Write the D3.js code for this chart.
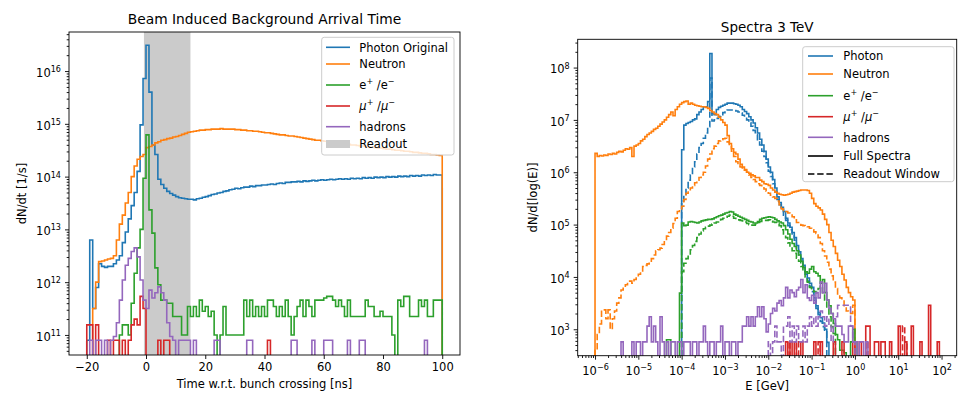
<!DOCTYPE html>
<html>
<head>
<meta charset="utf-8">
<script src="https://cdn.jsdelivr.net/npm/d3@7"></script>
<style>
  body { margin: 0; background: #fff; }
  text { font-family: "DejaVu Sans", sans-serif; fill: #000; }
</style>
</head>
<body>
<svg id="fig" width="958" height="394"></svg>
<script>
// ---------------- left panel: arrival time ----------------
// 1 ns bins starting at -20 ns, values are log10(dN/dt [1/s]), 0 = empty bin
const timeStart = -20;
const timeBinWidth = 1;
const timeTicks = [-20, 0, 20, 40, 60, 80, 100];
const readoutWindow = [-0.7, 15];

const photonTime = [
  10.9, 12.8, 11.5, 11.9, 12.35, 12.3, 12.28, 12.3, 12.3, 12.35,
  12.42, 12.5, 12.75, 12.95, 13.2, 13.45, 13.7, 14.1, 14.98, 15.86,
  16.49, 15.6, 14.6, 14.42, 13.95, 13.85, 13.78, 13.72, 13.68, 13.65,
  13.62, 13.6, 13.59, 13.58, 13.57, 13.57, 13.56, 13.58, 13.59, 13.61,
  13.62, 13.64, 13.66, 13.67, 13.69, 13.7, 13.72, 13.73, 13.75, 13.76,
  13.78, 13.77, 13.79, 13.8, 13.8, 13.82, 13.81, 13.83, 13.83, 13.84,
  13.84, 13.85, 13.86, 13.85, 13.87, 13.88, 13.87, 13.89, 13.89, 13.9,
  13.9, 13.91, 13.9, 13.92, 13.91, 13.92, 13.93, 13.92, 13.93, 13.94,
  13.93, 13.94, 13.95, 13.94, 13.95, 13.96, 13.95, 13.96, 13.95, 13.97,
  13.96, 13.97, 13.96, 13.98, 13.97, 13.98, 13.97, 13.99, 13.98, 13.99,
  13.98, 14.0, 13.99, 14.0, 13.99, 14.01, 14.0, 14.01, 14.0, 14.02,
  14.01, 14.02, 14.01, 14.03, 14.02, 14.03, 14.02, 14.04, 14.03, 14.03
];
const neutronTime = [
  0, 0, 11.5, 12.0, 12.39, 12.4, 12.42, 12.44, 12.45, 12.5,
  12.8, 13.1, 13.27, 13.5, 13.7, 14.0, 14.2, 14.33, 14.38, 14.42,
  14.55, 14.57, 14.6, 14.64, 14.66, 14.69, 14.7, 14.72, 14.73, 14.75,
  14.76, 14.78, 14.8, 14.82, 14.84, 14.85, 14.86, 14.87, 14.88, 14.88,
  14.89, 14.89, 14.9, 14.9, 14.9, 14.91, 14.9, 14.9, 14.9, 14.9,
  14.89, 14.89, 14.88, 14.88, 14.87, 14.87, 14.86, 14.86, 14.85, 14.84,
  14.83, 14.83, 14.82, 14.81, 14.8, 14.79, 14.79, 14.78, 14.77, 14.77,
  14.76, 14.75, 14.74, 14.73, 14.72, 14.71, 14.7, 14.69, 14.69, 14.68,
  14.67, 14.66, 14.66, 14.65, 14.64, 14.63, 14.63, 14.62, 14.61, 14.6,
  14.6, 14.59, 14.58, 14.58, 14.57, 14.56, 14.56, 14.55, 14.54, 14.54,
  14.53, 14.52, 14.52, 14.51, 14.5, 14.5, 14.49, 14.48, 14.48, 14.47,
  14.46, 14.46, 14.45, 14.44, 14.44, 14.43, 14.42, 14.42, 14.41, 14.4
];
const electronTime = [
  0, 0, 0, 0, 0, 0, 0, 0, 0, 0,
  0, 11.0, 11.19, 11.19, 11.0, 11.6, 12.17, 12.65, 13.0, 13.97,
  14.79, 13.37, 12.93, 12.27, 11.95, 11.66, 11.66, 11.6, 11.6, 11.35,
  11.35, 11.35, 11.0, 11.0, 11.54, 11.35, 11.54, 11.35, 11.66, 11.45,
  11.54, 11.35, 11.45, 11.0, 0, 11.0, 11.54, 11.0, 11.0, 11.0,
  11.0, 11.0, 11.0, 11.66, 11.35, 11.66, 11.35, 11.54, 11.35, 11.54,
  11.35, 11.66, 11.66, 11.54, 11.35, 11.54, 11.35, 11.66, 11.35, 11.0,
  11.35, 11.54, 11.66, 11.35, 11.66, 11.54, 11.35, 11.66, 11.66, 11.66,
  11.7, 11.73, 11.73, 11.66, 11.54, 11.66, 11.54, 11.35, 11.66, 11.35,
  11.35, 11.35, 11.35, 11.35, 11.66, 11.54, 11.54, 11.35, 11.35, 11.45,
  11.35, 11.35, 11.35, 11.0, 0, 11.66, 11.54, 11.73, 11.73, 11.35,
  11.35, 11.35, 11.66, 11.54, 11.66, 11.35, 11.35, 11.66, 11.66, 11.66
];
const muonTime = [
  11.19, 11.19, 0, 11.19, 0, 0, 0, 10.9, 0, 10.9,
  10.9, 0, 10.9, 0, 10.9, 11.19, 11.3, 11.19, 11.73, 11.5,
  0, 0, 0, 0, 10.9, 0, 10.9, 10.9, 0, 0,
  0, 0, 0, 0, 0, 0, 0, 0, 0, 0,
  0, 0, 0, 0, 0, 0, 0, 0, 0, 0,
  0, 0, 0, 0, 0, 0, 0, 0, 0, 0,
  0, 10.9, 0, 0, 0, 0, 0, 0, 0, 0,
  0, 0, 0, 0, 0, 0, 0, 0, 0, 0,
  0, 0, 0, 0, 0, 0, 0, 0, 0, 0,
  0, 0, 0, 0, 0, 0, 0, 0, 0, 0,
  0, 0, 0, 0, 0, 0, 0, 0, 0, 0,
  0, 0, 0, 0, 0, 0, 0, 0, 0, 0
];
const hadronTime = [
  0, 10.9, 0, 10.9, 10.9, 0, 10.9, 0, 10.9, 10.97,
  11.23, 11.66, 12.04, 12.32, 12.45, 12.58, 12.65, 12.48, 12.04, 11.66,
  11.5, 11.85, 11.7, 11.8, 11.91, 11.8, 11.66, 11.23, 10.97, 10.9,
  0, 10.9, 10.9, 10.9, 10.9, 0, 10.9, 0, 0, 0,
  0, 0, 0, 10.9, 10.9, 0, 0, 0, 0, 0,
  0, 0, 0, 0, 10.9, 10.9, 0, 0, 0, 0,
  0, 0, 0, 0, 0, 0, 0, 0, 0, 10.9,
  10.9, 0, 0, 0, 0, 0, 10.9, 0, 0, 0,
  10.9, 10.9, 10.9, 0, 0, 0, 0, 0, 10.9, 0,
  0, 0, 10.9, 10.9, 0, 0, 0, 0, 0, 0,
  0, 0, 0, 0, 0, 0, 0, 0, 0, 0,
  0, 0, 0, 0, 10.9, 0, 0, 0, 0, 0
];

// ---------------- right panel: spectra ----------------
// bins of 0.05 in log10(E/GeV), values are log10(dN/dlog(E)), 0 = empty bin
const eBinWidth = 0.05;

const photonFullStart = -4.0;
const photonFull = [
  6.43, 6.9, 6.93, 6.95, 6.97, 7.0, 7.02, 7.1, 7.15, 7.2,
  7.25, 7.25, 7.35, 8.27, 7.12, 7.1, 7.2, 7.24, 7.26, 7.28,
  7.3, 7.32, 7.32, 7.32, 7.31, 7.3, 7.28, 7.25, 7.2, 7.16,
  7.12, 7.06, 7.0, 6.94, 6.85, 6.75, 6.63, 6.52, 6.4, 6.25,
  6.1, 6.0, 5.86, 5.7, 5.53, 5.42, 5.33, 5.25, 5.12, 5.03,
  4.95, 4.85, 4.75, 4.6, 4.48, 4.35, 4.22, 4.1, 3.98, 3.88,
  3.8, 3.6, 3.45, 3.32, 3.22, 3.12, 3.0, 2.75
];
const photonReadoutStart = -4.0;
const photonReadout = [
  5.45, 5.55, 5.7, 5.85, 5.95, 6.1, 6.2, 6.35, 6.47, 6.55,
  6.65, 6.75, 6.87, 7.8, 6.98, 7.0, 7.03, 7.07, 7.1, 7.14,
  7.17, 7.19, 7.19, 7.19, 7.18, 7.17, 7.15, 7.13, 7.09, 7.05,
  7.0, 6.95, 6.88, 6.8, 6.72, 6.62, 6.52, 6.4, 6.3, 6.18,
  6.02, 5.92, 5.78, 5.62, 5.48, 5.38, 5.28, 5.18, 5.08, 4.98,
  4.9, 4.8, 4.7, 4.55, 4.42, 4.3, 4.18, 4.05, 3.92, 3.82,
  3.72, 3.55, 3.4, 3.28, 3.15, 3.05, 2.95
];
const neutronFullStart = -6.0;
const neutronFull = [
  6.36, 6.3, 6.32, 6.31, 6.33, 6.32, 6.35, 6.34, 6.36, 6.35,
  6.38, 6.4, 6.39, 6.42, 6.45, 6.44, 6.47, 6.3, 6.5, 6.52,
  6.55, 6.6, 6.63, 6.68, 6.72, 6.75, 6.78, 6.82, 6.84, 6.88,
  6.92, 6.96, 7.0, 7.05, 7.1, 7.15, 7.08, 7.2, 7.25, 7.3,
  7.33, 7.35, 7.36, 7.3, 7.32, 7.3, 7.28, 7.27, 7.26, 7.25,
  7.25, 7.24, 7.22, 7.18, 7.15, 7.12, 7.1, 7.05, 7.0, 6.95,
  6.9, 6.7, 6.55, 6.45, 6.38, 6.35, 6.25, 6.15, 6.1, 6.05,
  6.0, 5.98, 5.95, 5.93, 5.9, 5.9, 5.85, 5.82, 5.78, 5.77,
  5.75, 5.7, 5.66, 5.62, 5.6, 5.58, 5.57, 5.56, 5.57, 5.58,
  5.6, 5.62, 5.63, 5.64, 5.65, 5.66, 5.66, 5.66, 5.65, 5.6,
  5.5, 5.4, 5.35, 5.32, 5.28, 5.2, 5.1, 5.0, 4.85, 4.7,
  4.58, 4.45, 4.32, 4.2, 4.05, 3.94, 3.8, 3.7, 3.62, 3.56
];
const neutronReadoutStart = -6.0;
const neutronReadout = [
  2.6, 2.9, 3.1, 3.37, 3.37, 3.2, 3.37, 3.0, 3.2, 3.35,
  3.5, 3.6, 3.75, 3.8, 3.85, 3.9, 3.92, 3.88, 3.95, 4.0,
  4.05, 4.1, 4.2, 4.22, 4.25, 4.28, 4.35, 4.42, 4.5, 4.52,
  4.55, 4.62, 4.7, 4.78, 4.85, 4.93, 5.02, 5.12, 5.25, 5.3,
  5.35, 5.48, 5.6, 5.65, 5.7, 5.75, 5.8, 5.85, 5.9, 5.95,
  6.0, 6.12, 6.25, 6.35, 6.45, 6.5, 6.55, 6.6, 6.62, 6.64,
  6.65, 6.58, 6.5, 6.4, 6.3, 6.2, 6.12, 6.1, 6.08, 6.04,
  6.0, 5.95, 5.9, 5.86, 5.82, 5.78, 5.75, 5.72, 5.68, 5.64,
  5.6, 5.56, 5.53, 5.5, 5.45, 5.38, 5.3, 5.27, 5.25, 5.22,
  5.2, 5.15, 5.09, 5.04, 5.0, 4.99, 4.98, 4.97, 4.96, 4.93,
  4.9, 4.86, 4.83, 4.75, 4.64, 4.5, 4.4, 4.28, 4.15, 4.02,
  3.9, 3.78, 3.65, 3.6, 3.56, 3.45, 3.35, 3.32, 3.3, 3.46
];
const electronFullStart = -4.35;
const electronFull = [
  2.8, 2.8, 0, 0, 0, 0, 3.69, 5.03, 4.98, 4.99,
  5.05, 5.06, 5.05, 5.04, 5.03, 5.05, 5.07, 5.08, 5.09, 5.1,
  5.1, 5.11, 5.13, 5.15, 5.17, 5.18, 5.2, 5.22, 5.23, 5.25,
  5.24, 5.2, 5.18, 5.16, 5.14, 5.12, 5.1, 5.08, 5.06, 5.05,
  5.03, 5.03, 5.06, 5.1, 5.12, 5.13, 5.14, 5.15, 5.14, 5.13,
  5.1, 5.07, 5.05, 5.03, 4.98, 4.9, 4.82, 4.72, 4.64, 4.58,
  4.5, 4.42, 4.3, 4.18, 4.1, 4.07, 4.15, 4.2, 4.1, 4.07,
  4.02, 3.88, 3.95, 3.7, 3.56, 3.45, 3.3, 3.11, 2.9, 2.8,
  2.6, 2.6, 2.55, 0, 0, 2.76, 3.0, 2.76
];
const electronReadoutStart = -4.0;
const electronReadout = [
  4.1, 4.26, 4.35, 4.42, 4.52, 4.6, 4.68, 4.75, 4.82, 4.88,
  4.92, 4.95, 4.97, 4.99, 5.01, 5.03, 5.05, 5.07, 5.1, 5.12,
  5.14, 5.16, 5.18, 5.16, 5.12, 5.1, 5.09, 5.08, 5.07, 5.05,
  5.02, 5.0, 4.99, 4.99, 5.01, 5.04, 5.06, 5.07, 5.08, 5.08,
  5.09, 5.07, 5.05, 5.04, 5.02, 4.98, 4.9, 4.82, 4.75, 4.65,
  4.55, 4.5, 4.45, 4.36, 4.3, 4.2, 4.1, 4.0, 3.9, 3.8,
  3.75, 3.72, 3.7, 3.78, 3.82, 3.7, 3.56, 3.4, 3.24, 3.05,
  2.92
];
const muonFullStart = -2.0;
const muonFull = [
  0, 0, 0, 0, 0, 0, 0, 0, 2.76, 0,
  2.76, 0, 2.76, 0, 0, 2.76, 0, 0, 0, 0,
  0, 2.76, 0, 0, 2.76, 0, 0, 0, 0, 0,
  2.76, 0, 0, 0, 2.76, 0, 0, 0, 0, 2.76,
  0, 0, 2.76, 0, 0, 3.06, 3.06, 0, 0, 2.76,
  2.76, 0, 2.76, 2.76, 0, 0, 2.76, 0, 0, 0,
  3.06, 0, 0, 2.76, 0, 0, 3.06, 0, 0, 0,
  2.76, 0, 0, 0, 3.46, 0, 0, 0, 2.76, 0
];
const muonReadoutStart = -2.0;
const muonReadout = [
  0, 0, 0, 0, 0, 0, 0, 0, 0, 2.76,
  0, 0, 0, 2.76, 0, 0, 0, 0, 0, 0,
  0, 0, 0, 2.76, 0, 0, 0, 0, 0, 0,
  0, 0, 0, 0, 0, 0, 0, 0, 0, 0,
  0, 0, 0, 0, 0, 2.76, 0, 0, 0, 0,
  0, 0, 0, 0, 0, 0, 0, 0, 0, 0,
  0, 0, 3.06, 2.76, 0, 0, 0, 0, 0, 0,
  0, 0, 0, 0, 0, 0, 0, 0, 0, 0
];
const hadronFullStart = -5.45;
const hadronFull = [
  0, 2.76, 0, 0, 0, 0, 2.76, 0, 2.76, 2.76,
  0, 2.76, 2.76, 3.06, 3.24, 2.76, 3.06, 2.76, 0, 3.24,
  2.76, 0, 2.76, 0, 2.76, 2.76, 0, 2.76, 2.76, 0,
  2.76, 2.76, 2.76, 0, 2.76, 2.76, 0, 2.76, 2.76, 3.06,
  2.76, 0, 2.76, 2.76, 0, 2.76, 2.76, 3.06, 0, 2.76,
  2.76, 0, 2.76, 2.76, 0, 2.76, 2.76, 3.06, 3.06, 3.24,
  3.06, 3.24, 3.06, 3.24, 3.43, 3.24, 3.43, 3.2, 2.95, 3.1,
  3.3, 3.4, 3.35, 3.5, 3.55, 3.45, 3.6, 3.8, 3.6, 3.75,
  3.7, 3.62, 3.75, 3.8, 3.95, 3.7, 3.85, 3.6, 3.55, 3.65,
  3.5, 3.7, 3.6, 3.9, 3.7, 3.88, 3.56, 3.4, 3.3, 3.2,
  3.06, 3.06, 3.06, 2.9, 2.76, 2.76, 3.06, 3.06, 2.76, 2.76,
  0, 2.76, 2.76, 0, 2.76
];
const hadronReadoutStart = -2.0;
const hadronReadout = [
  2.76, 0, 2.76, 3.06, 2.76, 2.76, 0, 3.06, 3.06, 3.24,
  2.76, 3.06, 2.76, 3.06, 2.76, 2.76, 3.06, 2.76, 3.06, 3.24,
  3.06, 3.24, 3.06, 3.24, 3.35, 3.24, 3.06, 3.24, 3.06, 2.76,
  3.06, 3.24, 3.46, 3.46, 3.46, 3.46, 3.46, 3.46, 3.06, 2.76
];

// ---------------- drawing ----------------
const colors = {
  photon: '#1f77b4', neutron: '#ff7f0e', electron: '#2ca02c',
  muon: '#d62728', hadron: '#9467bd'
};
const fontSize = 11.5;
const lineWidth = 1.6;
const dashes = '6.4,2.8';

const svg = d3.select('#fig');
const defs = svg.append('defs');

// text with superscripts / italic pieces
function addRich(textSel, parts, size) {
  let shift = 0;
  parts.forEach(p => {
    const target = p.sup ? -0.42 * size : 0;
    const ts = textSel.append('tspan').text(p.t);
    if (target - shift !== 0) ts.attr('dy', target - shift);
    if (p.sup) ts.attr('font-size', size * 0.7);
    if (p.it) ts.attr('font-style', 'italic');
    shift = target;
  });
}

function powParts(d) {
  const e = Math.round(Math.log10(d));
  return [{ t: '10' }, { t: (e < 0 ? '\u2212' : '') + Math.abs(e), sup: true }];
}

function minorTicks(scale) {
  const [a, b] = scale.domain();
  const out = [];
  for (let n = Math.floor(Math.log10(a)); n <= Math.ceil(Math.log10(b)); n++) {
    for (let k = 2; k <= 9; k++) {
      const v = k * Math.pow(10, n);
      if (v >= a && v <= b) out.push(v);
    }
  }
  return out;
}

function cleanAxis(g) {
  g.select('.domain').remove();
  g.selectAll('.tick line').attr('stroke', '#000').attr('stroke-width', 0.9);
  g.selectAll('.tick text').attr('font-size', fontSize).attr('fill', '#000')
    .attr('font-family', '"DejaVu Sans", sans-serif');
}

function logYAxis(y, box, majors) {
  const g = svg.append('g').attr('transform', `translate(${box.x0},0)`)
    .call(d3.axisLeft(y).tickValues(minorTicks(y)).tickSize(2.3).tickFormat(''));
  cleanAxis(g);
  const gm = svg.append('g').attr('transform', `translate(${box.x0},0)`)
    .call(d3.axisLeft(y).tickValues(majors).tickSize(4).tickPadding(4));
  cleanAxis(gm);
  gm.selectAll('.tick text').each(function (d) {
    const t = d3.select(this).text(null).attr('dy', null).attr('y', 5.3);
    addRich(t, powParts(d), fontSize);
  });
}

function histPath(edgeX, y, start, width, vals, floorY) {
  const pts = [[edgeX(start), floorY]];
  vals.forEach((v, i) => {
    const yy = v > 0 ? y(Math.pow(10, v)) : floorY;
    pts.push([edgeX(start + i * width), yy], [edgeX(start + (i + 1) * width), yy]);
  });
  pts.push([edgeX(start + vals.length * width), floorY]);
  return d3.line()(pts);
}

function clipFor(id, box) {
  defs.append('clipPath').attr('id', id).append('rect')
    .attr('x', box.x0).attr('y', box.y0)
    .attr('width', box.x1 - box.x0).attr('height', box.y1 - box.y0);
}

function frame(box) {
  svg.append('rect').attr('x', box.x0).attr('y', box.y0)
    .attr('width', box.x1 - box.x0).attr('height', box.y1 - box.y0)
    .attr('fill', 'none').attr('stroke', '#000').attr('stroke-width', 0.9);
}

function legend(box, rows, handle, textX) {
  const g = svg.append('g');
  g.append('rect').attr('x', box.x).attr('y', box.y).attr('width', box.w).attr('height', box.h)
    .attr('rx', 2.5).attr('fill', 'rgba(255,255,255,0.8)').attr('stroke', '#cccccc').attr('stroke-width', 1);
  rows.forEach(r => {
    if (r.patch) {
      g.append('rect').attr('x', handle[0]).attr('y', r.y - 4).attr('width', handle[1] - handle[0])
        .attr('height', 8).attr('fill', r.patch);
    } else {
      g.append('line').attr('x1', handle[0]).attr('x2', handle[1]).attr('y1', r.y).attr('y2', r.y)
        .attr('stroke', r.color).attr('stroke-width', lineWidth)
        .attr('stroke-dasharray', r.dash ? dashes : null);
    }
    const t = g.append('text').attr('x', textX).attr('y', r.y + 4.2).attr('font-size', fontSize);
    addRich(t, r.parts, fontSize);
  });
}

const eParts = [{ t: 'e' }, { t: '+', sup: true }, { t: ' /e' }, { t: '\u2212', sup: true }];
const muParts = [{ t: '\u03bc', it: true }, { t: '+', sup: true }, { t: ' /' }, { t: '\u03bc', it: true }, { t: '\u2212', sup: true }];

// ======== left panel ========
const L = { x0: 69, x1: 460, y0: 32, y1: 355 };
const xT = d3.scaleLinear().domain([-26, 106]).range([L.x0, L.x1]);
const yT = d3.scaleLog().domain([Math.pow(10, 10.62), Math.pow(10, 16.74)]).range([L.y1, L.y0]);
clipFor('clipL', L);

const plotL = svg.append('g').attr('clip-path', 'url(#clipL)');
plotL.append('rect')
  .attr('x', xT(readoutWindow[0])).attr('y', L.y0)
  .attr('width', xT(readoutWindow[1]) - xT(readoutWindow[0])).attr('height', L.y1 - L.y0)
  .attr('fill', '#cbcbcb');

const timeSeries = [
  [photonTime, colors.photon], [neutronTime, colors.neutron], [electronTime, colors.electron],
  [muonTime, colors.muon], [hadronTime, colors.hadron]
];
timeSeries.forEach(([vals, c]) => {
  plotL.append('path')
    .attr('d', histPath(xT, yT, timeStart, timeBinWidth, vals, L.y1 + 10))
    .attr('fill', 'none').attr('stroke', c).attr('stroke-width', lineWidth)
    .attr('stroke-linejoin', 'miter');
});

const gxL = svg.append('g').attr('transform', `translate(0,${L.y1})`)
  .call(d3.axisBottom(xT).tickValues(timeTicks).tickSize(4).tickPadding(4)
    .tickFormat(d => d < 0 ? '\u2212' + (-d) : String(d)));
cleanAxis(gxL);
logYAxis(yT, L, d3.range(11, 17).map(n => Math.pow(10, n)));
frame(L);

svg.append('text').attr('x', (L.x0 + L.x1) / 2).attr('y', 24).attr('text-anchor', 'middle')
  .attr('font-size', 13.8).text('Beam Induced Background Arrival Time');
svg.append('text').attr('x', (L.x0 + L.x1) / 2).attr('y', 388).attr('text-anchor', 'middle')
  .attr('font-size', fontSize).text('Time w.r.t. bunch crossing [ns]');
svg.append('text').attr('transform', `translate(26,${(L.y0 + L.y1) / 2}) rotate(-90)`)
  .attr('text-anchor', 'middle').attr('font-size', fontSize).text('dN/dt [1/s]');

legend({ x: 321.7, y: 37.3, w: 132.3, h: 117.7 }, [
  { y: 47.3, color: colors.photon, parts: [{ t: 'Photon Original' }] },
  { y: 64, color: colors.neutron, parts: [{ t: 'Neutron' }] },
  { y: 85, color: colors.electron, parts: eParts },
  { y: 106, color: colors.muon, parts: muParts },
  { y: 126.7, color: colors.hadron, parts: [{ t: 'hadrons' }] },
  { y: 144, patch: '#cbcbcb', parts: [{ t: 'Readout' }] }
], [326, 350], 359.3);

// ======== right panel ========
const R = { x0: 577.7, x1: 956.7, y0: 39.3, y1: 355.7 };
const xE = d3.scaleLog().domain([Math.pow(10, -6.4), Math.pow(10, 2.35)]).range([R.x0, R.x1]);
const yE = d3.scaleLog().domain([Math.pow(10, 2.495), Math.pow(10, 8.54)]).range([R.y1, R.y0]);
const edgeE = e => xE(Math.pow(10, e));
clipFor('clipR', R);
const plotR = svg.append('g').attr('clip-path', 'url(#clipR)');

const specSeries = [
  [photonFullStart, photonFull, colors.photon, false],
  [photonReadoutStart, photonReadout, colors.photon, true],
  [neutronFullStart, neutronFull, colors.neutron, false],
  [neutronReadoutStart, neutronReadout, colors.neutron, true],
  [electronFullStart, electronFull, colors.electron, false],
  [electronReadoutStart, electronReadout, colors.electron, true],
  [muonFullStart, muonFull, colors.muon, false],
  [muonReadoutStart, muonReadout, colors.muon, true],
  [hadronFullStart, hadronFull, colors.hadron, false],
  [hadronReadoutStart, hadronReadout, colors.hadron, true]
];
specSeries.forEach(([start, vals, c, dashed]) => {
  plotR.append('path')
    .attr('d', histPath(edgeE, yE, start, eBinWidth, vals, R.y1 + 10))
    .attr('fill', 'none').attr('stroke', c).attr('stroke-width', lineWidth)
    .attr('stroke-dasharray', dashed ? dashes : null);
});

const gxMinor = svg.append('g').attr('transform', `translate(0,${R.y1})`)
  .call(d3.axisBottom(xE).tickValues(minorTicks(xE)).tickSize(2.3).tickFormat(''));
cleanAxis(gxMinor);
const gxR = svg.append('g').attr('transform', `translate(0,${R.y1})`)
  .call(d3.axisBottom(xE).tickValues(d3.range(-6, 3).map(n => Math.pow(10, n))).tickSize(4).tickPadding(4));
cleanAxis(gxR);
gxR.selectAll('.tick text').each(function (d) {
  const t = d3.select(this).text(null).attr('dy', null).attr('y', 19.3);
  addRich(t, powParts(d), fontSize);
});
logYAxis(yE, R, d3.range(3, 9).map(n => Math.pow(10, n)));
frame(R);

svg.append('text').attr('x', (R.x0 + R.x1) / 2).attr('y', 32).attr('text-anchor', 'middle')
  .attr('font-size', 13.5).text('Spectra 3 TeV');
svg.append('text').attr('x', (R.x0 + R.x1) / 2).attr('y', 390).attr('text-anchor', 'middle')
  .attr('font-size', fontSize).text('E [GeV]');
svg.append('text').attr('transform', `translate(537,${(R.y0 + R.y1) / 2}) rotate(-90)`)
  .attr('text-anchor', 'middle').attr('font-size', fontSize).text('dN/d[log(E)]');

legend({ x: 802.7, y: 46.7, w: 151.3, h: 135 }, [
  { y: 56, color: colors.photon, parts: [{ t: 'Photon' }] },
  { y: 74, color: colors.neutron, parts: [{ t: 'Neutron' }] },
  { y: 95.7, color: colors.electron, parts: eParts },
  { y: 116.7, color: colors.muon, parts: muParts },
  { y: 137.3, color: colors.hadron, parts: [{ t: 'hadrons' }] },
  { y: 156, color: '#000', parts: [{ t: 'Full Spectra' }] },
  { y: 174, color: '#000', dash: true, parts: [{ t: 'Readout Window' }] }
], [808, 833], 843.3);
</script>
</body>
</html>
